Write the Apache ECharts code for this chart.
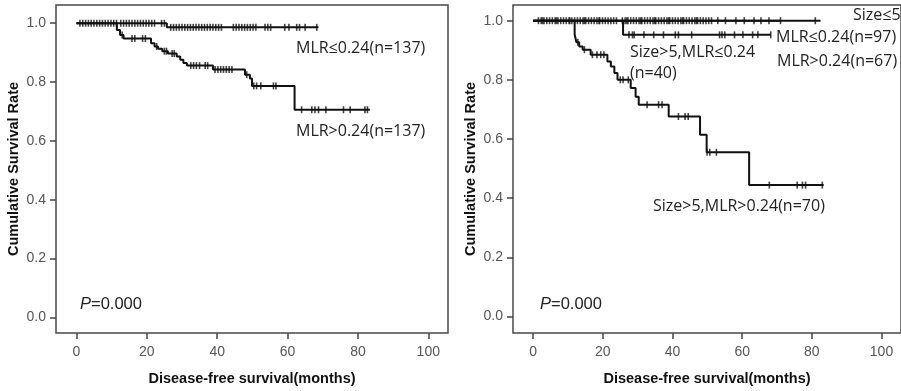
<!DOCTYPE html>
<html>
<head>
<meta charset="utf-8">
<script src="https://cdn.jsdelivr.net/npm/echarts@6/dist/echarts.min.js"></script>
<style>html,body{margin:0;padding:0;background:#fff}#c{width:901px;height:391px}</style>
</head>
<body>
<div id="c"></div>
<script>
// ---- tick labels ----
const xTicks = [0, 20, 40, 60, 80, 100];
const yTicks = [0, 0.2, 0.4, 0.6, 0.8, 1.0];

// ---- Left panel: MLR≤0.24 ----
const L1_times = [0, 25.7, 68.8];
const L1_surv  = [1, 0.986, 0.986];
const L1_cens  = [1,1.8,2.6,3.4,4.2,5,5.8,6.6,7.4,8.2,9,9.8,10.6,11.4,12.6,13.4,14.2,15,15.8,16.6,17.4,18.2,19,19.8,20.6,21.4,22.2,24.2,25,
                  26.8,27.6,28.4,29.2,30,30.8,31.6,32.4,33.2,34,34.8,35.6,36.4,37.2,38,38.8,39.6,40.4,41.2,44.6,45.4,46.2,47,47.8,48.6,49.4,50.2,51,53.6,54.4,55.2,59.2,60.4,62.6,63.4,65,68.3];
// ---- Left panel: MLR>0.24 ----
const L2_times = [0, 11.5, 12.4, 13.4, 21.2, 22.2, 23.2, 24.4, 26, 28.5, 29.5, 30.4, 31.4, 38.8, 47.9, 49.3, 49.9, 62, 83.4];
const L2_surv  = [1, 0.977, 0.96, 0.948, 0.932, 0.921, 0.913, 0.905, 0.897, 0.887, 0.876, 0.865, 0.856, 0.843, 0.825, 0.812, 0.787, 0.706, 0.706];
const L2_cens  = [13, 15.8, 16.6, 18.8, 19.6, 22.8, 25, 25.6, 27.2, 27.8, 32.5, 33.3, 34.1, 35, 36.6, 37.3, 39.4, 40.2, 41, 41.8, 42.6, 43.4, 44.2, 48.4,
                  50.4, 51.2, 52.4, 56, 56.7, 64, 66.9, 67.8, 68.8, 70.9, 75.9, 77.8, 82, 82.7];

// ---- Right panel: Size≤5, MLR≤0.24 (n=97) ----
const R1_times = [0, 82.5];
const R1_surv  = [1, 1];
const R1_cens  = [1.5,2.3,3.1,3.9,4.7,5.5,6.3,7.1,7.9,8.7,9.5,10.3,11.1,11.9,12.7,13.5,14.3,15.1,15.9,16.7,17.5,18.3,19.1,19.9,20.7,21.5,22.3,23.1,23.9,
                  25.6,26.4,27.2,28,28.8,29.6,30.4,31.2,32,32.8,33.6,34.4,35.2,36,36.8,37.6,38.4,39.2,40,40.8,41.6,42.4,43.2,44,44.8,45.6,46.4,47.2,48,48.8,49.6,50.4,51.2,53,55.2,
                  58.2,60.6,63.4,65.4,67.7,81];
// ---- Right panel: Size≤5, MLR>0.24 (n=67) ----
const R2_times = [0, 71];
const R2_surv  = [1, 1];
const R2_cens  = [2.7, 6.7, 10.5, 14.7, 18.9, 26.9, 30.9, 34.9, 38.9, 42.9, 46.9, 71];
// ---- Right panel: Size>5, MLR≤0.24 (n=40) ----
const R3_times = [0, 25.8, 68.2];
const R3_surv  = [1, 0.952, 0.952];
const R3_cens  = [27.5, 28.5, 29, 31.8, 34.6, 37.4, 40.8, 41.7, 45.5, 53.5, 54.2, 55, 57.8, 60.2, 63, 64.5, 68.2];
// ---- Right panel: Size>5, MLR>0.24 (n=70) ----
const R4_times = [0, 11.9, 12.4, 13.2, 14.2, 16.5, 21.3, 22.3, 23.3, 24.2, 28, 29.4, 30.3, 38.9, 47.9, 49.8, 62, 83.4];
const R4_surv  = [1, 0.953, 0.927, 0.913, 0.902, 0.885, 0.862, 0.845, 0.823, 0.8, 0.772, 0.743, 0.716, 0.676, 0.614, 0.555, 0.444, 0.444];
const R4_cens  = [12.8, 14.7, 17, 18.3, 19.4, 20.3, 25, 25.8, 27.3, 32.7, 36, 37, 41.7, 43.6, 44.5, 49.9, 50.7, 52.6, 67.8, 75.8, 77.3, 78.2, 83];

// ---- helpers ----
function curve(times, surv) { return times.map((t, i) => [t, surv[i]]); }
function stepAt(times, surv, t) { let s = surv[0]; for (let i = 0; i < times.length; i++) if (times[i] <= t) s = surv[i]; return s; }
function cens(times, surv, ct) { return ct.map(t => [t, stepAt(times, surv, t)]); }

const INK = '#111';
function lineS(idx, times, surv) {
  return { type: 'line', xAxisIndex: idx, yAxisIndex: idx, data: curve(times, surv), step: 'end',
    showSymbol: false, symbol: 'none', lineStyle: { color: INK, width: 2 }, itemStyle: { color: INK }, z: 3 };
}
function censS(idx, times, surv, ct) {
  return { type: 'scatter', xAxisIndex: idx, yAxisIndex: idx, data: cens(times, surv, ct),
    symbol: 'rect', symbolSize: [1.6, 7], itemStyle: { color: INK }, z: 4 };
}

const axisFont = { color: '#555', fontSize: 14, fontFamily: 'Liberation Sans, Arial, sans-serif' };
const titleFont = { color: '#111', fontSize: 14.5, fontWeight: 'bold', fontFamily: 'Liberation Sans, Arial, sans-serif' };
function xAx(gi) {
  return { type: 'value', gridIndex: gi, min: -5.8, max: 105.6,
    name: 'Disease-free survival(months)', nameLocation: 'middle', nameGap: 38,
    nameTextStyle: titleFont,
    axisLine: { show: false, onZero: false }, splitLine: { show: false },
    axisTick: { show: true, inside: false, length: 6, customValues: xTicks, lineStyle: { color: '#444', width: 1.5 } },
    axisLabel: Object.assign({ customValues: xTicks, margin: 12, formatter: v => String(Math.round(v)) }, axisFont) };
}
function yAx(gi, mn, mx) {
  return { type: 'value', gridIndex: gi, min: mn, max: mx,
    name: 'Cumulative Survival Rate', nameLocation: 'middle', nameGap: 35, nameRotate: 90,
    nameTextStyle: titleFont,
    axisLine: { show: false, onZero: false }, splitLine: { show: false },
    axisTick: { show: true, inside: false, length: 6, customValues: yTicks, lineStyle: { color: '#444', width: 1.5 } },
    axisLabel: Object.assign({ customValues: yTicks, margin: 10, formatter: v => v.toFixed(1) }, axisFont) };
}

const annFont = 'Open Sans, Noto Sans, sans-serif';
function ann(text, x, y) {
  return { type: 'text', x: x, y: y, z: 10, style: { text: text, fill: '#222', fontSize: 16, fontFamily: annFont, verticalAlign: 'middle' } };
}
function pAnn(x, y) {
  return { type: 'text', x: x, y: y, z: 10, style: { text: '{i|P}=0.000', fill: '#222', fontSize: 16.5,
    fontFamily: 'Liberation Sans, Arial, sans-serif', verticalAlign: 'middle',
    rich: { i: { fontStyle: 'italic', fontSize: 16.5, fontFamily: 'Liberation Sans, Arial, sans-serif', fill: '#222' } } } };
}

const option = {
  animation: false,
  backgroundColor: '#fff',
  grid: [
    { left: 56, top: 5, width: 392, height: 329, show: true, borderColor: '#4a4a4a', borderWidth: 1.5 },
    { left: 513, top: 5, width: 392, height: 328, show: true, borderColor: '#4a4a4a', borderWidth: 1.5 }
  ],
  xAxis: [xAx(0), xAx(1)],
  yAxis: [yAx(0, -0.053, 1.062), yAx(1, -0.056, 1.053)],
  series: [
    lineS(0, L1_times, L1_surv), censS(0, L1_times, L1_surv, L1_cens),
    lineS(0, L2_times, L2_surv), censS(0, L2_times, L2_surv, L2_cens),
    lineS(1, R1_times, R1_surv), censS(1, R1_times, R1_surv, R1_cens),
    lineS(1, R2_times, R2_surv), censS(1, R2_times, R2_surv, R2_cens),
    lineS(1, R3_times, R3_surv), censS(1, R3_times, R3_surv, R3_cens),
    lineS(1, R4_times, R4_surv), censS(1, R4_times, R4_surv, R4_cens)
  ],
  graphic: [
    ann('MLR≤0.24(n=137)', 296, 48),
    ann('MLR>0.24(n=137)', 296, 131),
    pAnn(80, 304.5),
    ann('Size≤5', 853, 15.5),
    ann('MLR≤0.24(n=97)', 776, 37.5),
    ann('MLR>0.24(n=67)', 777, 61.5),
    ann('Size>5,MLR≤0.24', 630, 52.5),
    ann('(n=40)', 630, 73),
    ann('Size>5,MLR>0.24(n=70)', 653, 206.5),
    pAnn(540, 304.5)
  ]
};
const chart = echarts.init(document.getElementById('c'), null, { renderer: 'canvas' });
chart.setOption(option);
</script>
</body>
</html>
